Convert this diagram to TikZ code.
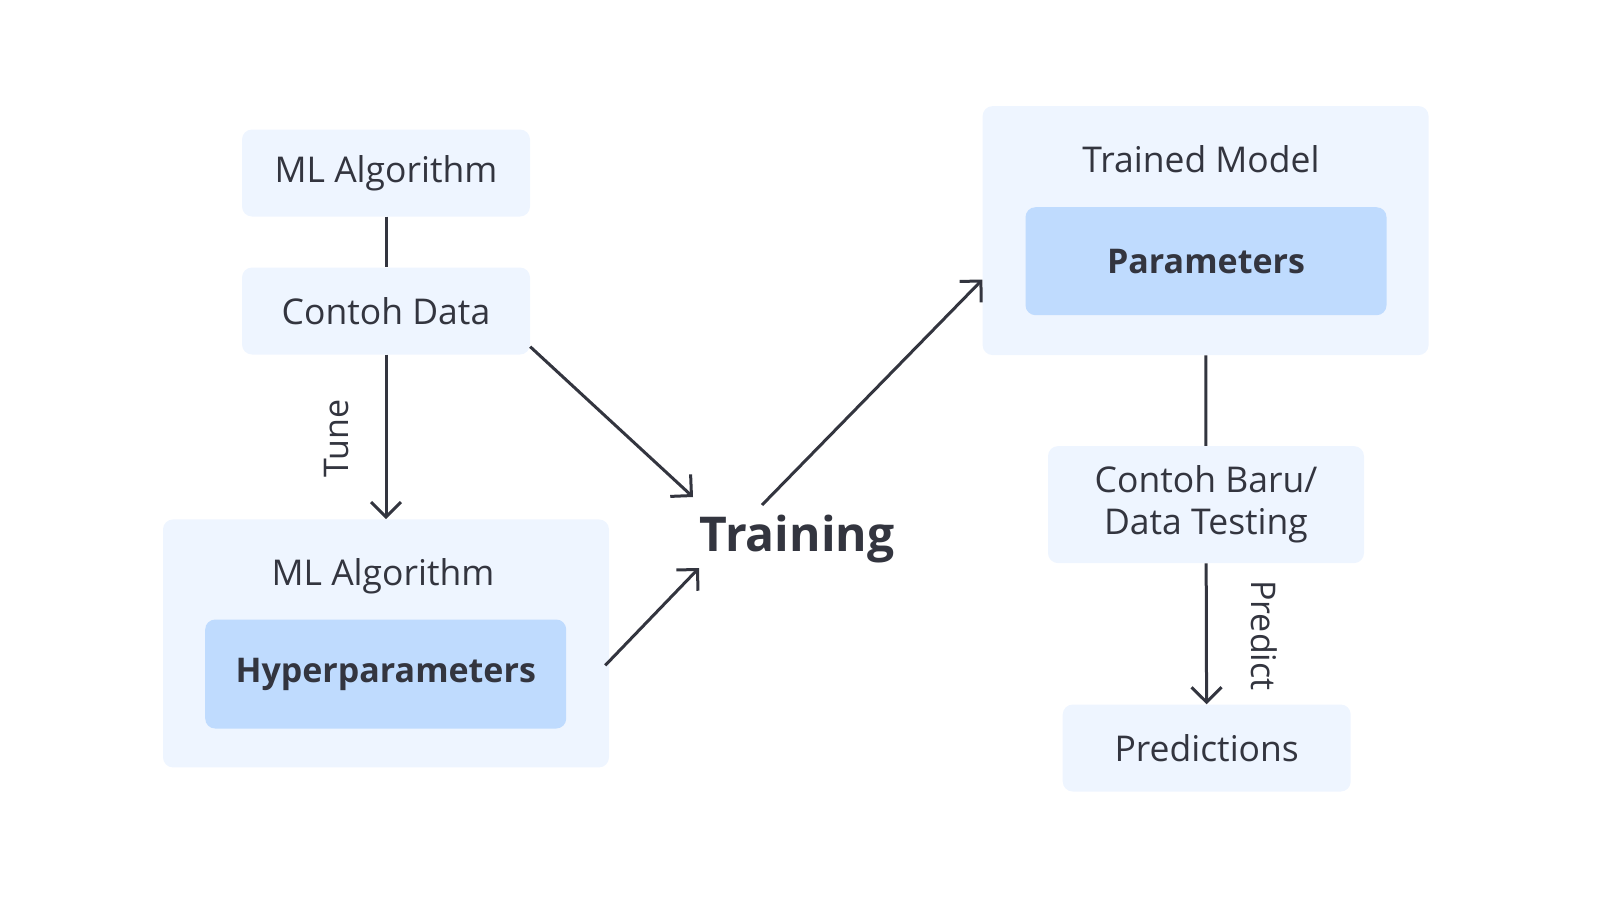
\documentclass[tikz,border=0pt]{standalone}
\usepackage{fontspec}
\setmainfont{Open Sans}
\usepackage{tikz}
\usetikzlibrary{arrows.meta}
\usetikzlibrary{positioning}
\usepackage{xcolor}
\definecolor{paleblue}{HTML}{EEF5FF}
\definecolor{midblue}{HTML}{BFDBFE}
\definecolor{ink}{HTML}{33353F}

\begin{document}
\begin{tikzpicture}[x=1pt,y=-1pt,
  box/.style={fill=paleblue,rounded corners=10pt,inner sep=0pt,text=ink,font=\fontsize{35.5}{42}\selectfont,align=center},
  inbox/.style={box,fill=midblue,font=\fontsize{34}{42}\selectfont\bfseries},
  lbl/.style={text=ink,inner sep=0pt,font=\fontsize{34}{40}\selectfont},
  con/.style={draw=ink,line width=3pt},
  arr/.style={con,-{Straight Barb[length=15pt,width=30pt]}}]
\useasboundingbox (0,0) rectangle (1600,900);
% left column
\node[box,minimum width=288pt,minimum height=87pt] (alg) at (386,173) {ML Algorithm};
\node[box,minimum width=288pt,minimum height=87pt] (data) at (386,311) {Contoh Data};
\node[box,minimum width=446pt,minimum height=248pt] (hyperbox) at (386,643.4) {};
\node[lbl,font=\fontsize{35.5}{42}\selectfont] (hyperalg) at (383,576.5) {ML Algorithm};
\node[inbox,minimum width=361pt,minimum height=109pt] (hyper) at (385.7,674) {Hyperparameters};
% middle
\node[text=ink,inner sep=0pt,font=\fontsize{48}{54}\selectfont\bfseries] (train) at (797,539) {Training};
% right column
\node[box,minimum width=446pt,minimum height=249pt] (modelbox) at (1205.6,230.6) {};
\node[lbl,font=\fontsize{35.5}{42}\selectfont] (modeltitle) at (1201,159.2) {Trained Model};
\node[inbox,minimum width=361pt,minimum height=108pt] (param) at (1206,261.2) {Parameters};
\node[box,minimum width=316pt,minimum height=117pt] (newdata) at (1206,504.6) {Contoh Baru/\\Data Testing};
\node[box,minimum width=288pt,minimum height=87pt] (pred) at (1206.7,748) {Predictions};
% labels
\node[lbl,rotate=90] (tune) at (337,438.5) {Tune};
\node[lbl,rotate=-90] (predict) at (1264.5,635.5) {Predict};
% connectors
\coordinate (intop) at (693,497);
\coordinate (inbot) at (699,568);
\coordinate (outtop) at (762,505);
\draw[con] (alg) -- (data);
\draw[arr] (data) -- (hyperbox);
\draw[arr] ([yshift=8pt]data.south east) -- (intop);
\draw[arr] ([shift={(-4,22)}]hyperbox.east) -- (inbot);
\draw[arr] (outtop) -- ([yshift=-49pt]modelbox.west);
\draw[con] (modelbox) -- (newdata);
\draw[arr] (newdata) -- (pred);
\end{tikzpicture}
\end{document}
